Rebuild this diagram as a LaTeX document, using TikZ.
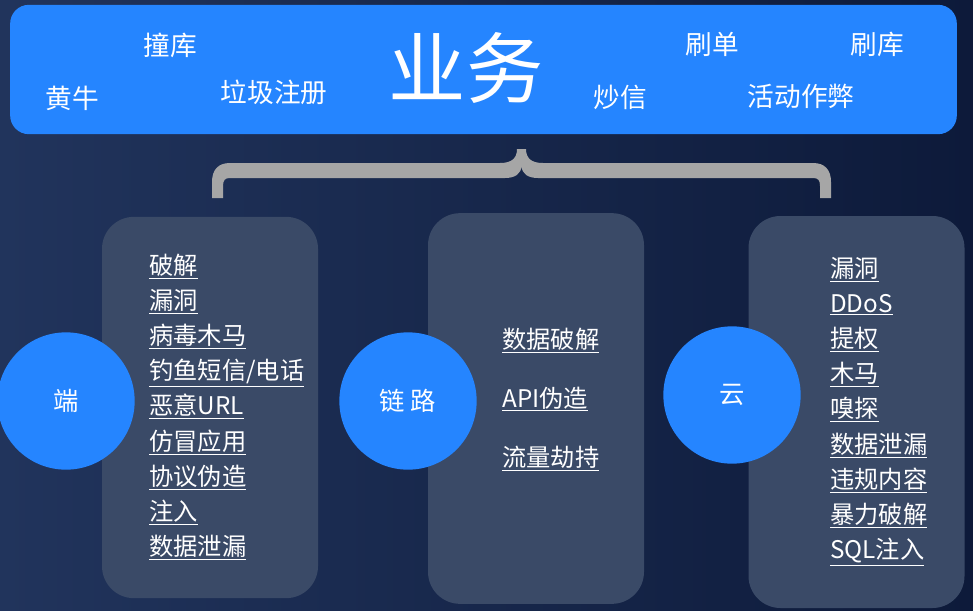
\documentclass[tikz,border=0pt]{standalone}
\usepackage{fontspec}
\setmainfont{Noto Sans CJK SC}
\usetikzlibrary{positioning,calc}

\definecolor{bizblue}{RGB}{37,133,255}
\definecolor{bgleft}{RGB}{33,52,92}
\definecolor{bgright}{RGB}{13,26,58}
\definecolor{panelgray}{RGB}{58,74,103}
\definecolor{bracegray}{RGB}{166,166,166}

\begin{document}
\begin{tikzpicture}[
			x=0.75pt, y=-0.75pt,
			tag/.style={text=white, font=\fontsize{20}{24}\selectfont},
			panel/.style={fill=panelgray, rounded corners=24pt, minimum width=162pt, inner sep=0},
			hub/.style={circle, fill=bizblue, text=white, minimum size=103pt, inner sep=0, font=\fontsize{19}{23}\selectfont},
			item/.style={text=white, anchor=base west, inner sep=0, font=\fontsize{18.2}{21}\selectfont}
			]
			\useasboundingbox (0,0) rectangle (973,610);
			\shade[left color=bgleft, right color=bgright] (0,0) rectangle (973,610);
			
			% top bar
			\node[fill=bizblue, rounded corners=14pt, minimum width=710pt, minimum height=97pt, inner sep=0] (biz) at (483.5,69.5) {};
			\node[text=white, font=\fontsize{58}{60}\selectfont] (bizt) at (466,68) {业务};
			\node[tag] (t1) at (170,45) {撞库};
			\node[tag] (t2) at (72,98) {黄牛};
			\node[tag] (t3) at (274,92) {垃圾注册};
			\node[tag] (t4) at (620,97) {炒信};
			\node[tag] (t5) at (712,44) {刷单};
			\node[tag] (t6) at (877,44) {刷库};
			\node[tag] (t7) at (801,96) {活动作弊};
			
			% brace
			\fill[bracegray] (212,198) -- (212,182) .. controls (212,170) and (218,163) .. (230,163) -- (500,163) .. controls (512,163) and (517,158) .. (517,149) -- (526,149) .. controls (526,158) and (531,163) .. (543,163) -- (813,163) .. controls (825,163) and (831,170) .. (831,182) -- (831,198) -- (820,198) -- (820,186) .. controls (820,180) and (818,178) .. (813,178) -- (538,178) .. controls (528,178) and (522,174) .. (521.5,166) .. controls (521,174) and (515,178) .. (505,178) -- (230,178) .. controls (225,178) and (223,180) .. (223,186) -- (223,198) -- cycle;
			
			% panels
			\node[panel, minimum height=286pt] (p1) at (210,407.5) {};
			\node[panel, minimum height=293pt] (p2) at (536,408.5) {};
			\node[panel, minimum height=294pt] (p3) at (856.5,412) {};
			
			% hubs
			\node[hub] (end) at (66,401) {端};
			\node[hub] (link) at (408,401) {链 路};
			\node[hub] (cloud) at (732,395) {云};
			
			% lists
			\foreach \w [count=\i] in {破解,漏洞,病毒木马,钓鱼短信/电话,恶意URL,仿冒应用,协议伪造,注入,数据泄漏}
				\node[item] (e\i) at (149,{274+35.2*(\i-1)}) {\underline{\w}};
			\foreach \w [count=\i] in {数据破解,API伪造,流量劫持}
				\node[item] (l\i) at (502,{348+59*(\i-1)}) {\underline{\w}};
			\foreach \w [count=\i] in {漏洞,DDoS,提权,木马,嗅探,数据泄漏,违规内容,暴力破解,SQL注入}
				\node[item] (c\i) at (830,{277+35.2*(\i-1)}) {\underline{\w}};
		\end{tikzpicture}
\end{document}
